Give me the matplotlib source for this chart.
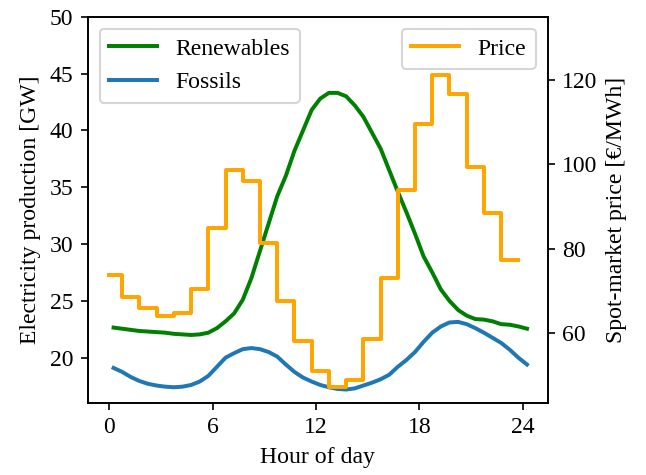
import numpy as np
import matplotlib
matplotlib.use("Agg")
import matplotlib.pyplot as plt

plt.rcParams['font.family'] = ['Liberation Serif', 'DejaVu Serif']
plt.rcParams['font.size'] = 11.4
plt.rcParams['lines.linewidth'] = 1.9

# Hourly spot-market price [EUR/MWh]; step edges in hours
price_edges = [0, 0.75, 1.75, 2.75, 3.75, 4.75, 5.75, 6.75, 7.75, 8.75, 9.75, 10.75,
               11.75, 12.75, 13.75, 14.75, 15.75, 16.75, 17.75, 18.75, 19.75, 20.75,
               21.75, 22.75, 23.75]
price = [73.9, 68.6, 65.9, 64.2, 64.9, 70.4, 84.9, 98.8, 96.1, 81.3, 67.6, 58.2,
         51.0, 47.2, 48.9, 58.6, 73.0, 93.9, 109.7, 121.2, 116.8, 99.3, 88.6, 77.3]

# Production time axis (hours)
hours = [0.25, 0.75, 1.25, 1.75, 2.25, 2.75, 3.25, 3.75, 4.25, 4.75, 5.25, 5.75,
         6.25, 6.75, 7.25, 7.75, 8.25, 8.75, 9.25, 9.75, 10.25, 10.75, 11.25, 11.75,
         12.25, 12.75, 13.25, 13.75, 14.25, 14.75, 15.25, 15.75, 16.25, 16.75, 17.25,
         17.75, 18.25, 18.75, 19.25, 19.75, 20.25, 20.75, 21.25, 21.75, 22.25, 22.75,
         23.25, 23.75, 24.25]

renewables = [22.65, 22.55, 22.45, 22.35, 22.3, 22.25, 22.2, 22.1, 22.05, 22.0, 22.05, 22.2,
              22.6, 23.2, 23.9, 25.1, 27.0, 29.4, 31.8, 34.2, 36.0, 38.2, 40.0, 41.8,
              42.8, 43.3, 43.3, 43.0, 42.2, 41.2, 39.8, 38.4, 36.5, 34.6, 32.8,
              30.9, 28.9, 27.5, 26.0, 25.0, 24.2, 23.7, 23.4, 23.35, 23.2, 22.95,
              22.9, 22.75, 22.55]

fossils = [19.1, 18.75, 18.3, 17.95, 17.7, 17.55, 17.45, 17.4, 17.45, 17.6, 17.9, 18.4,
           19.2, 20.0, 20.4, 20.75, 20.85, 20.75, 20.5, 20.1, 19.4, 18.75, 18.25, 17.9,
           17.6, 17.4, 17.25, 17.2, 17.3, 17.55, 17.8, 18.1, 18.5, 19.2, 19.8,
           20.5, 21.4, 22.2, 22.75, 23.1, 23.15, 22.95, 22.6, 22.2, 21.75, 21.3,
           20.7, 20.0, 19.4]

xticks = [0, 6, 12, 18, 24]

fig = plt.figure(figsize=(646 / 150, 475 / 150), dpi=150)
ax = fig.add_axes([0.1358, 0.1522, 0.8478 - 0.1358, 0.9648 - 0.1522])
ax.plot(hours, renewables, color='green', label='Renewables')
ax.plot(hours, fossils, color='#1f77b4', label='Fossils')
ax.set_xlim(-1.25, 25.45)
ax.set_ylim(16.04, 50)
ax.set_xticks(xticks)
ax.set_xlabel('Hour of day')
ax.set_ylabel('Electricity production [GW]')
ax.legend(loc='upper left')

ax2 = ax.twinx()
ax2.plot(price_edges, price + [price[-1]], drawstyle='steps-post', color='orange', label='Price')
ax2.set_ylim(43.55, 135.0)
ax2.set_yticks([60, 80, 100, 120])
ax2.set_ylabel('Spot-market price [€/MWh]')
ax2.legend(loc='upper right')

fig.savefig('out.png', dpi=150)
